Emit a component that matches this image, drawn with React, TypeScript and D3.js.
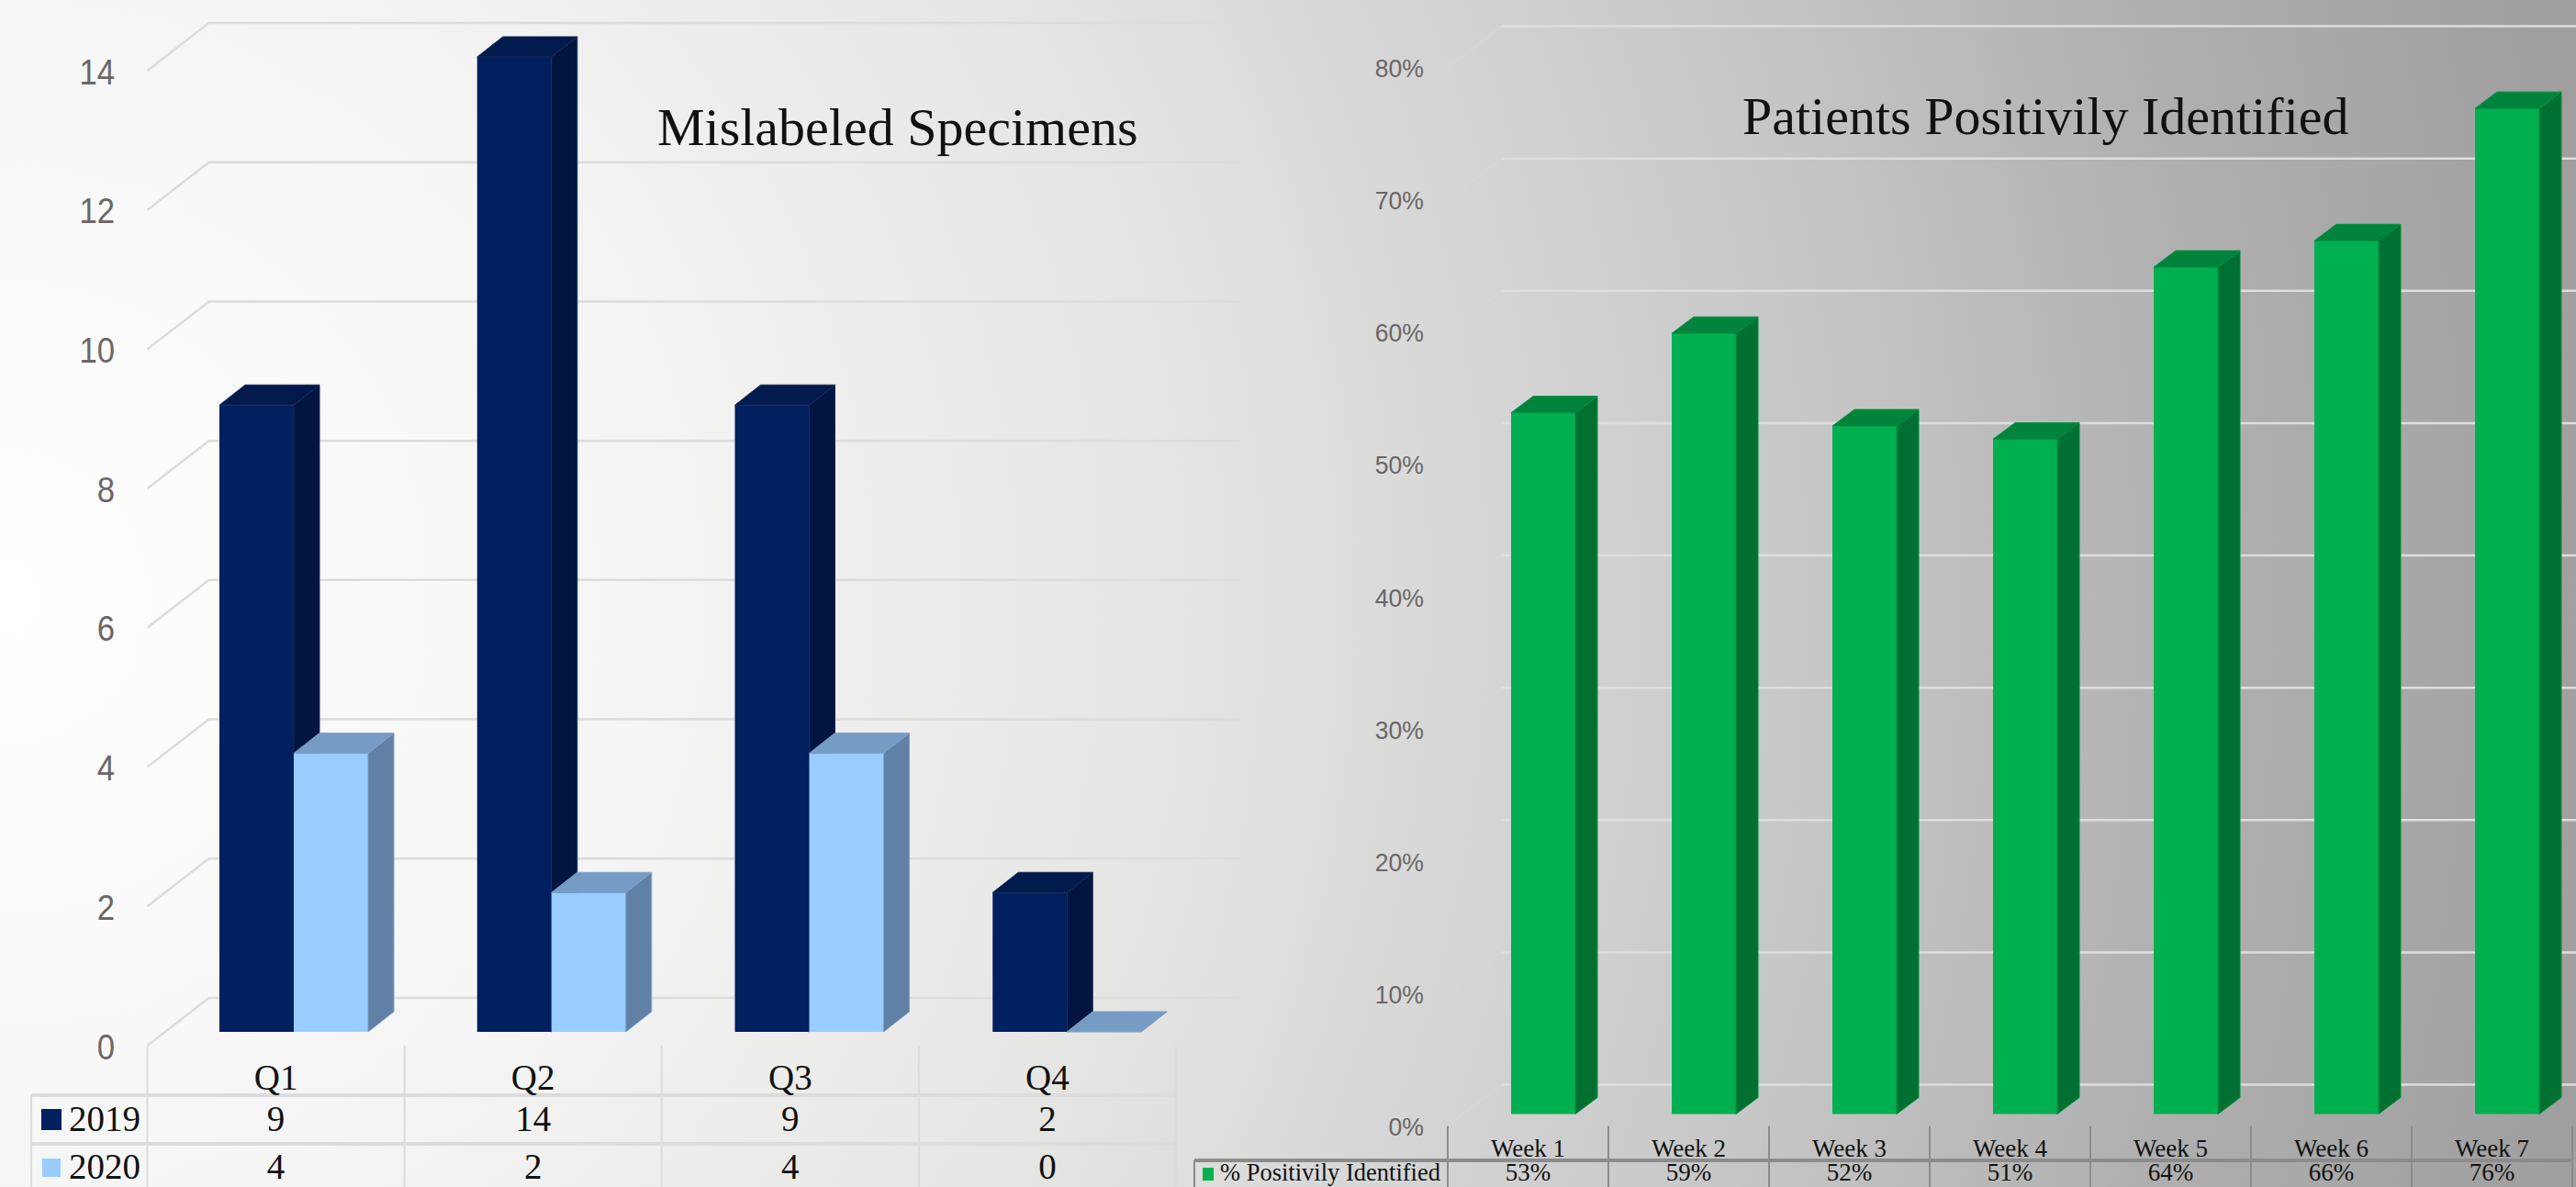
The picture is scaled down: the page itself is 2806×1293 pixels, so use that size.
import React, { useEffect, useRef } from 'react';
import * as d3 from 'd3';

const quarters = ['Q1', 'Q2', 'Q3', 'Q4'];
const years = ['2019', '2020'];
const values2019 = [9, 14, 9, 2];
const values2020 = [4, 2, 4, 0];
const countTicks = [0, 2, 4, 6, 8, 10, 12, 14];

const weeks = ['Week 1', 'Week 2', 'Week 3', 'Week 4', 'Week 5', 'Week 6', 'Week 7'];
const positivePct = [53, 59, 52, 51, 64, 66, 76];
const pctTicks = [0, 10, 20, 30, 40, 50, 60, 70, 80];

const SERIF = '"Liberation Serif", serif';
const SANS = '"Liberation Sans", sans-serif';

type Sel = d3.Selection<SVGGElement, unknown, null, undefined>;

// draws one fake 3d box, front + side + top
function box(g: Sel, x: number, w: number, yTop: number, yBase: number, dx: number, dy: number, c: { front: string; side: string; top: string; edge: string }) {
  if (yBase - yTop > 0) {
    g.append('rect').attr('x', x).attr('y', yTop).attr('width', w).attr('height', yBase - yTop).attr('fill', c.front);
    g.append('polygon')
      .attr('points', `${x + w},${yTop} ${x + w + dx},${yTop - dy} ${x + w + dx},${yBase - dy} ${x + w},${yBase}`)
      .attr('fill', c.side)
      .attr('stroke', c.edge);
  }
  g.append('polygon')
    .attr('points', `${x},${yTop} ${x + dx},${yTop - dy} ${x + w + dx},${yTop - dy} ${x + w},${yTop}`)
    .attr('fill', c.top)
    .attr('stroke', c.edge);
}

function drawLeft(root: Sel) {
  const depthX = 67;
  const depthY = 52;
  const gridRight = 1351;
  const tableLeft = 34;
  const lineColor = '#dcdcdc';

  const yFront = d3.scaleLinear().domain([0, 14]).range([1139, 77]);
  const x = d3.scaleBand<string>().domain(quarters).range([160.5, 1281]);
  const groupX = d3.scaleBand<string>().domain(quarters).range([239, 1362]);
  const barX = d3.scaleBand<string>().domain(years).range([0, 162]);
  const barY = (v: number) => yFront(v) - 15;

  const grid = root.append('g').attr('fill', 'none').attr('stroke', lineColor);
  countTicks.forEach(t => {
    const y0 = yFront(t);
    grid.append('path')
      .attr('d', `M${x.range()[0]},${y0}L${x.range()[0] + depthX},${y0 - depthY}H${gridRight}`)
      .attr('stroke-width', 2.5);
  });

  quarters.forEach((q, i) => {
    const left = groupX(q)!;
    box(root, left + barX('2019')!, barX.bandwidth(), barY(values2019[i]), barY(0), 28, 22,
      { front: '#002060', side: '#00153f', top: '#001a4d', edge: '#1a2b55' });
    box(root, left + barX('2020')!, barX.bandwidth(), barY(values2020[i]), barY(0), 28, 22,
      { front: '#99ccff', side: '#6080a6', top: '#769cc6', edge: '#7fa0c8' });
  });

  const axis = root.append('g')
    .attr('transform', 'translate(125,0)')
    .call(d3.axisLeft(yFront).tickValues(countTicks).tickSize(0).tickPadding(0));
  axis.select('.domain').remove();
  axis.selectAll('text')
    .attr('x', 0)
    .attr('dy', '0.36em')
    .attr('transform', 'scale(0.89,1)')
    .attr('font-family', SANS)
    .attr('font-size', 39)
    .attr('fill', '#6b6666');

  const rowTops = [1193, 1246];
  const tableBottom = 1293;
  const table = root.append('g').attr('stroke', lineColor);
  [...quarters.map(q => x(q)!), x.range()[1]].forEach(v => {
    table.append('line').attr('x1', v).attr('x2', v).attr('y1', yFront(0)).attr('y2', tableBottom).attr('stroke-width', 2);
  });
  table.append('line').attr('x1', tableLeft).attr('x2', tableLeft).attr('y1', rowTops[0]).attr('y2', tableBottom).attr('stroke-width', 2);
  rowTops.forEach(y => {
    table.append('line').attr('x1', tableLeft).attr('x2', x.range()[1]).attr('y1', y).attr('y2', y).attr('stroke-width', 4);
  });

  const cell = (px: number, py: number, s: string | number, anchor = 'middle') =>
    root.append('text').attr('x', px).attr('y', py).attr('text-anchor', anchor)
      .attr('font-family', SERIF).attr('font-size', 39).attr('fill', '#111').text(s);

  quarters.forEach((q, i) => {
    const cx = x(q)! + x.bandwidth() / 2;
    cell(cx, 1187, q);
    cell(cx, 1232, values2019[i]);
    cell(cx, 1284, values2020[i]);
  });
  cell(75, 1232, years[0], 'start');
  cell(75, 1284, years[1], 'start');
  root.append('rect').attr('x', 45).attr('y', 1208).attr('width', 22).attr('height', 23).attr('fill', '#002060');
  root.append('rect').attr('x', 46).attr('y', 1262).attr('width', 20).attr('height', 20).attr('fill', '#99ccff');

  root.append('text').attr('x', 716).attr('y', 158)
    .attr('font-family', SERIF).attr('font-size', 58).attr('fill', '#111').text('Mislabeled Specimens');
}

function drawRight(root: Sel) {
  const depthX = 59;
  const depthY = 45;
  const gridRight = 2806;
  const tableLeft = 1301;
  const lineColor = '#8c8c8c';

  const yFront = d3.scaleLinear().domain([0, 80]).range([1226.5, 73.5]);
  const x = d3.scaleBand<string>().domain(weeks).range([1577, 2802]);
  const barY = (v: number) => yFront(v) - 13;

  const grid = root.append('g').attr('fill', 'none');
  pctTicks.forEach(t => {
    const y0 = yFront(t);
    grid.append('path')
      .attr('d', `M${x.range()[0]},${y0}l${depthX},${-depthY}`)
      .attr('stroke', '#d8d8d8').attr('stroke-width', 1.2);
    grid.append('line')
      .attr('x1', x.range()[0] + depthX).attr('x2', gridRight)
      .attr('y1', y0 - depthY).attr('y2', y0 - depthY)
      .attr('stroke', '#dedede').attr('stroke-width', 2.5);
  });

  weeks.forEach((w, i) => {
    box(root, x(w)! + 69, 70, barY(positivePct[i]), barY(0), 24, 18,
      { front: '#00b050', side: '#007030', top: '#00843c', edge: '#00913f' });
  });

  const axis = root.append('g')
    .attr('transform', 'translate(1551,0)')
    .call(d3.axisLeft(yFront).tickValues(pctTicks).tickFormat(d => `${d}%`).tickSize(0).tickPadding(0));
  axis.select('.domain').remove();
  axis.selectAll('text')
    .attr('x', 0)
    .attr('dy', '0.36em')
    .attr('transform', 'scale(0.95,1)')
    .attr('font-family', SANS)
    .attr('font-size', 28)
    .attr('fill', '#6b6666');

  const rowTop = 1264;
  const tableBottom = 1293;
  const table = root.append('g').attr('stroke', lineColor);
  [...weeks.map(w => x(w)!), x.range()[1]].forEach(v => {
    table.append('line').attr('x1', v).attr('x2', v).attr('y1', yFront(0)).attr('y2', tableBottom).attr('stroke-width', 2);
  });
  table.append('line').attr('x1', tableLeft).attr('x2', tableLeft).attr('y1', rowTop).attr('y2', tableBottom).attr('stroke-width', 2);
  table.append('line').attr('x1', tableLeft).attr('x2', x.range()[1]).attr('y1', rowTop).attr('y2', rowTop).attr('stroke-width', 4);

  const cell = (px: number, py: number, s: string, anchor = 'middle', size = 27) =>
    root.append('text').attr('x', px).attr('y', py).attr('text-anchor', anchor)
      .attr('font-family', SERIF).attr('font-size', size).attr('fill', '#111').text(s);

  // last row sits a little higher than the slide so nothing gets cut by the page edge
  weeks.forEach((w, i) => {
    const cx = x(w)! + x.bandwidth() / 2;
    cell(cx, 1260, w);
    cell(cx, 1286, `${positivePct[i]}%`);
  });
  cell(1329, 1286, '% Positivily Identified', 'start', 26.5);
  root.append('rect').attr('x', 1310).attr('y', 1272).attr('width', 12).attr('height', 14).attr('fill', '#00b050');

  root.append('text').attr('x', 1898).attr('y', 146)
    .attr('font-family', SERIF).attr('font-size', 58).attr('fill', '#111').text('Patients Positivily Identified');
}

export default function App() {
  const ref = useRef<SVGSVGElement | null>(null);

  useEffect(() => {
    if (!ref.current) return;
    const svg = d3.select(ref.current);
    svg.selectAll('*').remove();

    // slide background, light spot on the left edge going grey to the right
    const stops: [number, string][] = [
      [0, '#ffffff'], [700, '#f5f5f5'], [1300, '#e4e4e2'], [1600, '#d7d7d7'],
      [2000, '#c6c6c6'], [2400, '#b0b0b0'], [2850, '#9f9f9f'],
    ];
    const grad = svg.append('defs').append('radialGradient')
      .attr('id', 'bg').attr('gradientUnits', 'userSpaceOnUse')
      .attr('cx', 0).attr('cy', 650).attr('r', 2850);
    stops.forEach(([o, c]) => grad.append('stop').attr('offset', o / 2850).attr('stop-color', c));
    svg.append('rect').attr('width', 2806).attr('height', 1293).attr('fill', 'url(#bg)');

    drawLeft(svg.append('g') as unknown as Sel);
    drawRight(svg.append('g') as unknown as Sel);
  }, []);

  return (
    <svg
      ref={ref}
      width={2806}
      height={1293}
      viewBox="0 0 2806 1293"
      style={{ position: 'absolute', left: 0, top: 0, display: 'block' }}
    />
  );
}
